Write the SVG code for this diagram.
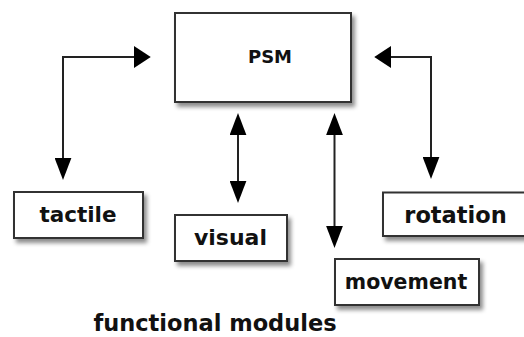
<svg xmlns="http://www.w3.org/2000/svg" width="524" height="337" viewBox="0 0 524 337">
<style>
.box{fill:#fff;stroke:#333;stroke-width:2;filter:url(#sh)}
.lbl{font-family:"DejaVu Sans",Verdana,sans-serif;font-weight:bold;fill:#111;text-anchor:middle}
.con{fill:none;stroke:#222;stroke-width:2}
</style>
<defs>
<filter id="sh" x="-10%" y="-10%" width="130%" height="140%">
<feDropShadow dx="3" dy="4" stdDeviation="2" flood-color="#000" flood-opacity="0.45"/>
</filter>
<marker id="av" markerUnits="userSpaceOnUse" markerWidth="22" markerHeight="17" refX="0" refY="8" orient="auto-start-reverse" viewBox="0 0 21 16">
<path d="M0,0 L21,8 L0,16 z" fill="#000"/>
</marker>
<marker id="ah" markerUnits="userSpaceOnUse" markerWidth="17" markerHeight="22" refX="0" refY="10.5" orient="auto-start-reverse" viewBox="0 0 16 21">
<path d="M0,0 L16,10.5 L0,21 z" fill="#000"/>
</marker>
</defs>
<rect width="524" height="337" fill="#fff"/>
<g id="connectors">
<path class="con" d="M134,57 H63 V158" marker-start="url(#ah)" marker-end="url(#av)"/>
<path class="con" d="M238,135 V181" marker-start="url(#av)" marker-end="url(#av)"/>
<path class="con" d="M334.5,135 V226" marker-start="url(#av)" marker-end="url(#av)"/>
<path class="con" d="M391,57 H431 V157" marker-start="url(#ah)" marker-end="url(#av)"/>
</g>
<g id="psm">
<rect class="box" x="175" y="13" width="176" height="89"/>
<text class="lbl" x="270" y="63" font-size="18">PSM</text>
</g>
<g id="tactile">
<rect class="box" x="14" y="192" width="129" height="46"/>
<text class="lbl" x="78" y="222" font-size="21.5">tactile</text>
</g>
<g id="visual">
<rect class="box" x="175" y="215" width="112" height="46"/>
<text class="lbl" x="230.5" y="245" font-size="22">visual</text>
</g>
<g id="movement">
<rect class="box" x="335" y="259" width="144" height="46"/>
<text class="lbl" x="406" y="289" font-size="20.5">movement</text>
</g>
<g id="rotation">
<rect class="box" x="383" y="192.5" width="150" height="43.5"/>
<text class="lbl" x="455.5" y="223" font-size="22.5">rotation</text>
</g>
<g id="title">
<text class="lbl" x="215" y="331" font-size="22.5">functional modules</text>
</g>
</svg>
